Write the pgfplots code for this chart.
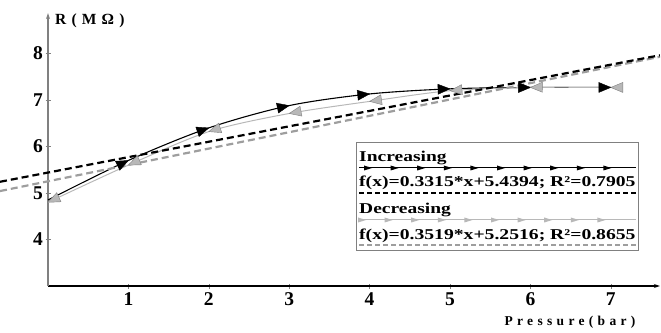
\documentclass[border=0pt]{standalone}
\usepackage{pgfplots}
\pgfplotsset{compat=1.18}
\usepackage{graphicx}
\usepackage{fontspec}
\setmainfont{Liberation Serif}
\usetikzlibrary{arrows.meta}

\pgfdeclareplotmark{arrtip}{%
  \pgfpathmoveto{\pgfqpoint{0pt}{0pt}}%
  \pgfpathlineto{\pgfqpoint{-12pt}{5pt}}%
  \pgfpathlineto{\pgfqpoint{-12pt}{-5pt}}%
  \pgfpathclose\pgfusepathqfillstroke}

\pgfplotstableread{
x y a
1 5.70 26
2 6.40 19
3 6.88 12
4 7.13 6
5 7.24 2
6 7.27 0.5
7 7.27 0
}\incmarks

\pgfplotstableread{
x y a
0 4.80 205
1 5.60 204
2 6.32 198
3 6.71 191
4 6.97 188
5 7.20 185
6 7.27 181
7 7.27 180
}\decmarks

\definecolor{lgray}{gray}{0.72}
\definecolor{mgray}{gray}{0.62}

\begin{document}
\begin{tikzpicture}
\useasboundingbox (-48pt,-46pt) rectangle (613pt,286pt);
\begin{axis}[
  x=80.4pt, y=46.5pt,
  xmin=0, xmax=7.61, ymin=3, ymax=8.87,
  axis lines=left, clip=false,
  x axis line style={black, line width=1.1pt, -{Stealth[length=6pt,width=4pt]}},
  y axis line style={gray, line width=1.3pt, -{Stealth[length=6pt,width=4pt]}},
  xtick={1,2,3,4,5,6,7}, ytick={4,5,6,7,8},
  tick align=center, major tick length=5pt,
  every tick/.style={gray, line width=0.6pt},
  ticklabel style={font=\fontsize{19.5}{19.5}\selectfont\bfseries},
  /pgf/number format/assume math mode=true,
  xticklabel style={yshift=-1pt},
  yticklabel style={xshift=1pt},
]
% Increasing data
\addplot[black, line width=1.1pt, smooth, no marks] coordinates {
  (0,4.85) (1,5.70) (2,6.40) (3,6.88) (4,7.13) (5,7.24) (6,7.27) (7,7.27)};
\addplot[only marks, mark=arrtip, scatter,
  mark options={fill=black, draw=black, line width=0.4pt},
  visualization depends on={\thisrow{a}\as\ang},
  scatter/@pre marker code/.code={\pgfscope\pgftransformrotate{\ang}},
  scatter/@post marker code/.code={\endpgfscope}]
  table[x=x,y=y] {\incmarks};
% Decreasing data
\addplot[lgray, line width=1.0pt, smooth, no marks] coordinates {
  (0,4.80) (1,5.60) (2,6.32) (3,6.71) (4,6.97) (5,7.20) (6,7.27) (7,7.27)};
\addplot[only marks, mark=arrtip, scatter,
  mark options={fill=lgray, draw=gray, line width=0.4pt},
  visualization depends on={\thisrow{a}\as\ang},
  scatter/@pre marker code/.code={\pgfscope\pgftransformrotate{\ang}},
  scatter/@post marker code/.code={\endpgfscope}]
  table[x=x,y=y] {\decmarks};
% Trend lines
\addplot[mgray, line width=2.2pt, dash pattern=on 7pt off 4pt, no marks]
  coordinates {(-0.597,5.0415) (7.61,7.9296)};
\addplot[black, line width=2.2pt, dash pattern=on 7pt off 4pt, no marks]
  coordinates {(-0.597,5.2415) (7.61,7.9621)};
\end{axis}
% axis titles
\node[anchor=west, inner sep=0] at (7pt,265pt)
  {\fontsize{15.5}{15.5}\selectfont\bfseries R\,\,(\,\,M\,\,Ω\,\,)};
\node[anchor=center, inner sep=0] at (522pt,-36pt)
  {\fontsize{13.5}{13.5}\selectfont\bfseries\addfontfeatures{LetterSpace=32}Pressure(bar)};
% legend
\draw[gray, line width=1pt, fill=white] (308pt,143pt) rectangle (590pt,36pt);
\node[anchor=base west, inner sep=0] at (311pt,124pt)
  {\scalebox{1.3}[1]{\fontsize{15}{15}\selectfont\bfseries Increasing}};
\draw[black, line width=1pt] (311pt,118pt) -- (588pt,118pt);
\foreach \i in {0,...,9} \fill[black] ({324pt+26.6pt*\i},118pt) -- ++(-8pt,2.5pt) -- ++(0,-5pt) -- cycle;
\node[anchor=base west, inner sep=0] at (311pt,99pt)
  {\scalebox{1.31}[1]{\fontsize{15}{15}\selectfont\bfseries f(x)=0.3315*x+5.4394; R²=0.7905}};
\draw[black, line width=1.6pt, dash pattern=on 5pt off 3pt] (311pt,93pt) -- (588pt,93pt);
\node[anchor=base west, inner sep=0] at (311pt,72pt)
  {\scalebox{1.3}[1]{\fontsize{15}{15}\selectfont\bfseries Decreasing}};
\draw[lgray, line width=1pt] (311pt,66pt) -- (588pt,66pt);
\foreach \i in {0,...,9} \fill[lgray] ({318pt+26.6pt*\i},66pt) -- ++(-8pt,2.5pt) -- ++(0,-5pt) -- cycle;
\node[anchor=base west, inner sep=0] at (311pt,46pt)
  {\scalebox{1.31}[1]{\fontsize{15}{15}\selectfont\bfseries f(x)=0.3519*x+5.2516; R²=0.8655}};
\draw[mgray, line width=1.6pt, dash pattern=on 5pt off 3pt] (311pt,41pt) -- (588pt,41pt);
\end{tikzpicture}
\end{document}
